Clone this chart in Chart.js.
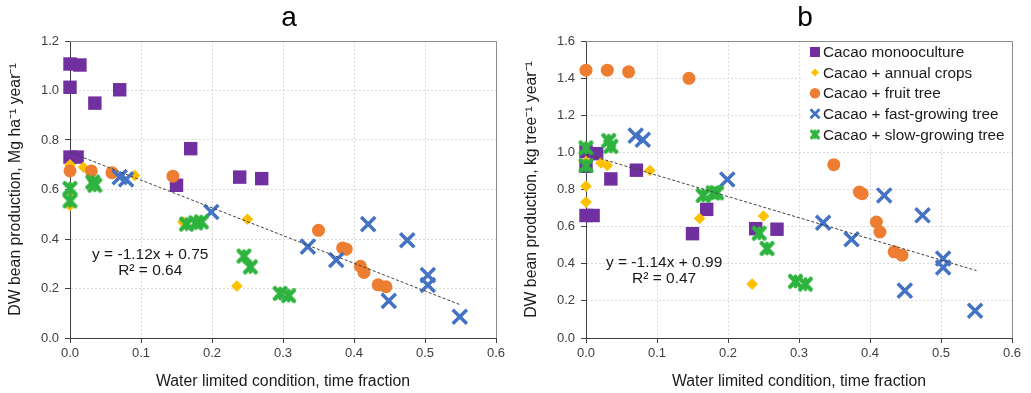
<!DOCTYPE html>
<html lang="en">
<head>
  <meta charset="utf-8">
  <title>DW bean production vs water limited condition</title>
  <script src="https://cdn.jsdelivr.net/npm/chart.js"></script>
  <style>
    body { margin: 0; background: #fff; }
    .wrap { position: relative; width: 1031px; height: 393px; }
    .panel { position: absolute; top: 0; }
    #panelA { left: 0; }
    #panelB { left: 516px; }
  </style>
</head>
<body>
<div class="wrap">
  <div class="panel" id="panelA"><canvas id="chartA" width="516" height="393"></canvas></div>
  <div class="panel" id="panelB"><canvas id="chartB" width="515" height="393"></canvas></div>
</div>
<script>
  // series names (legend order)
  const seriesNames = ['Cacao monooculture', 'Cacao + annual crops', 'Cacao + fruit tree',
                       'Cacao + fast-growing tree', 'Cacao + slow-growing tree'];
  const xTicks = [0, 0.1, 0.2, 0.3, 0.4, 0.5, 0.6];
  const yTicksA = [0, 0.2, 0.4, 0.6, 0.8, 1.0, 1.2];
  const yTicksB = [0, 0.2, 0.4, 0.6, 0.8, 1.0, 1.2, 1.4, 1.6];

  // panel a : Mg ha-1 year-1   [water limited fraction, production]
  const monoA   = [[0,1.107],[0.014,1.103],[0,1.013],[0.035,0.949],[0.07,1.003],[0,0.731],[0.01,0.731],[0.17,0.765],[0.15,0.617],[0.239,0.65],[0.27,0.644]];
  const annualA = [[0,0.70],[0.019,0.69],[0.091,0.657],[0,0.59],[0,0.535],[0.159,0.469],[0.25,0.48],[0.235,0.21]];
  const fruitA  = [[0,0.675],[0.03,0.675],[0.059,0.668],[0.145,0.654],[0.35,0.435],[0.384,0.364],[0.389,0.359],[0.409,0.29],[0.414,0.265],[0.434,0.215],[0.445,0.207]];
  const fastA   = [[0.07,0.65],[0.079,0.641],[0.199,0.509],[0.335,0.369],[0.375,0.315],[0.42,0.46],[0.475,0.395],[0.504,0.254],[0.504,0.214],[0.449,0.15],[0.549,0.086]];
  const slowA   = [[0,0.604],[0,0.554],[0.032,0.63],[0.035,0.617],[0.164,0.46],[0.177,0.465],[0.185,0.469],[0.245,0.331],[0.254,0.287],[0.296,0.18],[0.308,0.171]];
  const trendA  = [[0,0.75],[0.55,0.134]];
  const eqA     = ['y = -1.12x + 0.75', 'R² = 0.64'];

  // panel b : kg tree-1 year-1
  const monoB   = [[0,1.005],[0.015,0.993],[0,0.925],[0.035,0.857],[0.071,0.904],[0,0.66],[0.01,0.66],[0.15,0.562],[0.17,0.693],[0.239,0.589],[0.269,0.586]];
  const annualB = [[0,0.95],[0.021,0.943],[0.03,0.929],[0.09,0.902],[0,0.818],[0,0.732],[0.16,0.644],[0.25,0.657],[0.234,0.29]];
  const fruitB  = [[0,1.443],[0.03,1.443],[0.06,1.434],[0.145,1.399],[0.349,0.934],[0.385,0.786],[0.389,0.777],[0.409,0.625],[0.414,0.571],[0.434,0.464],[0.445,0.446]];
  const fastB   = [[0.07,1.09],[0.08,1.068],[0.199,0.854],[0.334,0.621],[0.374,0.532],[0.42,0.768],[0.474,0.661],[0.503,0.428],[0.503,0.38],[0.449,0.255],[0.548,0.147]];
  const slowB   = [[0,1.024],[0,0.929],[0.032,1.063],[0.035,1.032],[0.165,0.768],[0.179,0.782],[0.184,0.782],[0.244,0.564],[0.255,0.482],[0.295,0.305],[0.309,0.29]];
  const trendB  = [[0,0.99],[0.55,0.363]];
  const eqB     = ['y = -1.14x + 0.99', 'R² = 0.47'];

  const colors = ['#7030A0', '#FFC000', '#ED7D31', '#4472C4', '#2EB33E'];
  const FONT = "'Liberation Sans', Arial, sans-serif";

  // excel style "star" marker: fat X plus short vertical bar
  function starMarker(size, color, lw) {
    const c = document.createElement('canvas');
    c.width = size; c.height = size;
    const g = c.getContext('2d');
    const m = lw / 2 + 1, h = size / 2;
    g.strokeStyle = color; g.lineCap = 'round';
    g.lineWidth = lw;
    g.beginPath();
    g.moveTo(m, m); g.lineTo(size - m, size - m);
    g.moveTo(size - m, m); g.lineTo(m, size - m);
    g.stroke();
    g.lineWidth = lw * 0.8;
    g.beginPath();
    g.moveTo(h, m); g.lineTo(h, size - m);
    g.stroke();
    return c;
  }
  const slowStyle = starMarker(17, colors[4], 4.4);
  const slowSmall = starMarker(12, colors[4], 3.4);

  const toXY = arr => arr.map(p => ({x: p[0], y: p[1]}));

  function makeDatasets(mono, annual, fruit, fast, slow, trend) {
    return [
      {label: 'trend', type: 'line', data: toXY(trend), borderColor: '#404040', borderWidth: 1,
       borderDash: [3, 2], pointRadius: 0, fill: false, order: 0},
      {label: seriesNames[4], data: toXY(slow), pointStyle: slowStyle, order: 1, clip: false,
       backgroundColor: colors[4], borderColor: colors[4]},
      {label: seriesNames[3], data: toXY(fast), pointStyle: 'crossRot', pointRadius: 10, borderWidth: 3.5,
       borderColor: colors[3], backgroundColor: colors[3], order: 2, clip: false},
      {label: seriesNames[2], data: toXY(fruit), pointStyle: 'circle', pointRadius: 6.5, borderWidth: 0,
       backgroundColor: colors[2], borderColor: colors[2], order: 3, clip: false},
      {label: seriesNames[1], data: toXY(annual), pointStyle: 'rectRot', pointRadius: 5.8, borderWidth: 0,
       backgroundColor: colors[1], borderColor: colors[1], order: 4, clip: false},
      {label: seriesNames[0], data: toXY(mono), pointStyle: 'rect', pointRadius: 9.5, borderWidth: 0,
       backgroundColor: colors[0], borderColor: colors[0], order: 5, clip: false}
    ];
  }

  // panel letter, frame, equation
  const decorPlugin = {
    id: 'decor',
    afterDraw(chart, args, opts) {
      const {ctx, chartArea: ca, scales} = chart;
      ctx.save();
      ctx.strokeStyle = '#8c8c8c';
      ctx.lineWidth = 1;
      ctx.beginPath();
      ctx.moveTo(ca.left, ca.top + 0.5);
      ctx.lineTo(ca.right + 0.5, ca.top + 0.5);
      ctx.lineTo(ca.right + 0.5, ca.bottom);
      ctx.stroke();

      ctx.fillStyle = '#000';
      ctx.textAlign = 'center';
      ctx.textBaseline = 'middle';
      ctx.font = '28px ' + FONT;
      ctx.fillText(opts.letter, (ca.left + ca.right) / 2 + 6, 18);

      ctx.font = '15.5px ' + FONT;
      ctx.fillStyle = '#1a1a1a';
      const ex = scales.x.getPixelForValue(opts.eqPos[0]);
      ctx.fillText(opts.eq[0], ex, scales.y.getPixelForValue(opts.eqPos[1]));
      ctx.fillText(opts.eq[1], ex, scales.y.getPixelForValue(opts.eqPos[2]));
      ctx.restore();
    }
  };

  // legend inside panel b (white box, no frame)
  const boxLegend = {
    id: 'boxLegend',
    beforeDatasetsDraw(chart, args, opts) {
      if (!opts.show) return;
      const {ctx, chartArea: ca} = chart;
      ctx.save();
      ctx.fillStyle = '#fff';
      ctx.fillRect(ca.left + 215, ca.top + 1, ca.right - ca.left - 215, 104);
      ctx.restore();
    },
    afterDraw(chart, args, opts) {
      if (!opts.show) return;
      const {ctx, chartArea: ca} = chart;
      const left = ca.left + 213, top = ca.top;
      ctx.save();
      ctx.font = '15.3px ' + FONT;
      ctx.textBaseline = 'middle';
      ctx.textAlign = 'left';
      const mx = left + 16, tx = left + 24;
      seriesNames.forEach((name, i) => {
        const y = top + 11 + i * 20.6;
        const c = colors[i];
        ctx.fillStyle = c; ctx.strokeStyle = c;
        if (i === 0) {
          ctx.fillRect(mx - 5, y - 5, 10, 10);
        } else if (i === 1) {
          ctx.beginPath();
          ctx.moveTo(mx, y - 4); ctx.lineTo(mx + 4, y); ctx.lineTo(mx, y + 4); ctx.lineTo(mx - 4, y);
          ctx.closePath(); ctx.fill();
        } else if (i === 2) {
          ctx.beginPath(); ctx.arc(mx, y, 5.2, 0, Math.PI * 2); ctx.fill();
        } else if (i === 3) {
          ctx.lineWidth = 2.8;
          ctx.beginPath();
          ctx.moveTo(mx - 4.5, y - 4.5); ctx.lineTo(mx + 4.5, y + 4.5);
          ctx.moveTo(mx + 4.5, y - 4.5); ctx.lineTo(mx - 4.5, y + 4.5);
          ctx.stroke();
        } else {
          ctx.drawImage(slowSmall, mx - 6, y - 6);
        }
        ctx.fillStyle = '#1a1a1a';
        ctx.fillText(name, tx, y + 1);
      });
      ctx.restore();
    }
  };

  function makeOptions(yTicks, yTitle, letter, eq, eqPos, padRight, legend) {
    const tickFont = {family: FONT, size: 13};
    const titleFont = {family: FONT, size: 15.8};
    return {
      responsive: false,
      animation: false,
      events: [],
      layout: {padding: {top: 41, right: padRight, bottom: 0, left: 0}},
      plugins: {
        legend: {display: false},
        tooltip: {enabled: false},
        decor: {letter: letter, eq: eq, eqPos: eqPos},
        boxLegend: {show: legend}
      },
      scales: {
        x: {
          type: 'linear', min: xTicks[0], max: xTicks[xTicks.length - 1],
          afterBuildTicks: s => { s.ticks = xTicks.map(v => ({value: v})); },
          afterFit: s => { s.height = 55; },
          ticks: {font: tickFont, color: '#404040', padding: 3, callback: v => v.toFixed(1), maxRotation: 0},
          grid: {color: '#d9d9d9', tickColor: '#404040', tickLength: 5},
          border: {color: '#404040', width: 1, dash: [2, 2]},
          title: {display: true, text: 'Water limited condition, time fraction', font: titleFont,
                  color: '#1a1a1a', padding: {top: 0, bottom: 2}}
        },
        y: {
          type: 'linear', min: yTicks[0], max: yTicks[yTicks.length - 1],
          afterBuildTicks: s => { s.ticks = yTicks.map(v => ({value: v})); },
          afterFit: s => { s.width = 70; },
          ticks: {font: tickFont, color: '#404040', padding: 6, callback: v => v.toFixed(1)},
          grid: {color: '#d9d9d9', tickColor: '#404040', tickLength: 5},
          border: {color: '#404040', width: 1, dash: [2, 2]},
          title: {display: true, text: yTitle, font: titleFont, color: '#1a1a1a', padding: {top: 6, bottom: 4}}
        }
      }
    };
  }

  new Chart(document.getElementById('chartA'), {
    type: 'scatter',
    data: {datasets: makeDatasets(monoA, annualA, fruitA, fastA, slowA, trendA)},
    options: makeOptions(yTicksA, ['DW bean production, Mg ha⁻¹ year⁻¹'], 'a', eqA, [0.113, 0.335, 0.27], 20, false),
    plugins: [decorPlugin, boxLegend]
  });

  new Chart(document.getElementById('chartB'), {
    type: 'scatter',
    data: {datasets: makeDatasets(monoB, annualB, fruitB, fastB, slowB, trendB)},
    options: makeOptions(yTicksB, ['DW bean production, kg tree⁻¹ year⁻¹'], 'b', eqB, [0.11, 0.407, 0.321], 19, true),
    plugins: [decorPlugin, boxLegend]
  });
</script>
</body>
</html>
